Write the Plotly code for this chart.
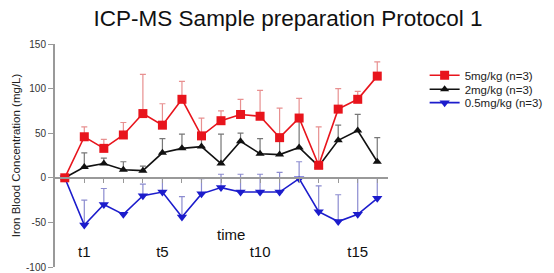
import plotly.graph_objects as go

x_idx = list(range(17))
tick_vals = [1, 5, 10, 15]
tick_text = ["t1", "t5", "t10", "t15"]
y_ticks = [-100, -50, 0, 50, 100, 150]
y_tick_text = ["-100", "-50", "0", "50", "100", "150"]

red_y = [0, 46, 33, 48, 72, 59, 88, 47, 64, 71, 69, 45, 67, 14, 77, 88, 114]
red_err = [0, 11, 10, 14, 44, 24, 20, 20, 11, 17, 29, 33, 22, 43, 23, 9, 16]

black_y = [0, 12, 16, 9, 8, 28, 33, 35, 16, 41, 27, 26, 34, 13, 42, 53, 18]
black_err = [0, 16, 6, 9, 5, 16, 16, 14, 33, 9, 17, 18, 33, 0, 17, 18, 27]

blue_y = [0, -53, -30, -41, -20, -16, -44, -18, -11, -16, -16, -16, -1, -38, -49, -41, -23]
blue_err = [0, 28, 18, 0, 13, 16, 23, 17, 15, 20, 20, 22, 19, 29, 30, 41, 23]

series = [
    ("0.5mg/kg (n=3)", blue_y, blue_err, "#1c1ccc", "#8c8cd0", "triangle-down", 9, "legend3"),
    ("2mg/kg (n=3)", black_y, black_err, "#111111", "#777777", "triangle-up", 8, "legend2"),
    ("5mg/kg (n=3)", red_y, red_err, "#e8141c", "#e89090", "square", 9, "legend"),
]

fig = go.Figure()
for name, ys, err, col, ecol, sym, sz, lg in series:
    fig.add_trace(go.Scatter(
        x=x_idx, y=ys, name=name, mode="lines+markers", legend=lg,
        line=dict(color=col, width=1.6),
        marker=dict(symbol=sym, size=sz, color=col),
        error_y=dict(type="data", symmetric=False, array=err,
                     arrayminus=[0] * len(err), color=ecol, thickness=1.2, width=3),
    ))

fig.add_trace(go.Scatter(x=[tick_vals[0]], y=[None], xaxis="x2", showlegend=False,
                         hoverinfo="skip"))

leg_common = dict(x=1.11, xanchor="left", yanchor="middle",
                  font=dict(size=11.5, color="#222"), bgcolor="rgba(0,0,0,0)",
                  itemwidth=30)
fig.update_layout(
    width=554, height=273,
    margin=dict(l=55, r=162, t=44, b=6),
    paper_bgcolor="white", plot_bgcolor="white",
    font=dict(family="Liberation Sans, Arial, sans-serif", color="#222"),
    title=dict(text="ICP-MS Sample preparation Protocol 1", x=0.52, xanchor="center",
               y=0.935, yanchor="middle", font=dict(size=22.5, color="#111"),
               automargin=False),
    showlegend=True,
    legend=dict(y=0.86, **leg_common),
    legend2=dict(y=0.797, **leg_common),
    legend3=dict(y=0.737, **leg_common),
    xaxis=dict(range=[-0.5, 16.55], anchor="free", position=0.4,
               showline=True, linecolor="#999", linewidth=2,
               tickvals=x_idx[1:], ticks="outside", ticklen=4, tickcolor="#999",
               tickwidth=1, showticklabels=False, showgrid=False, zeroline=False,
               automargin=False),
    xaxis2=dict(range=[-0.5, 16.55], overlaying="x", anchor="free", position=0.115,
                side="bottom",
                tickvals=tick_vals, ticktext=tick_text, ticks="", showline=False,
                showgrid=False, zeroline=False,
                tickfont=dict(size=15, color="#111"), automargin=False),
    yaxis=dict(range=[-100, 150], tickvals=y_ticks, ticktext=y_tick_text,
               showline=True, linecolor="#999", linewidth=2, ticks="outside",
               ticklen=5, tickcolor="#999", showgrid=False, zeroline=False,
               tickfont=dict(size=10, color="#333"), automargin=False,
               title=dict(text="Iron Blood Concentration (mg/L)", standoff=3,
                          font=dict(size=11.5, color="#222"))),
    annotations=[dict(text="time", x=8.5, y=-63, xref="x", yref="y", showarrow=False,
                      font=dict(size=15, color="#111"))],
)

fig.write_html("out.html", post_script="document.body.style.margin='0';",
               config={"displayModeBar": False})
